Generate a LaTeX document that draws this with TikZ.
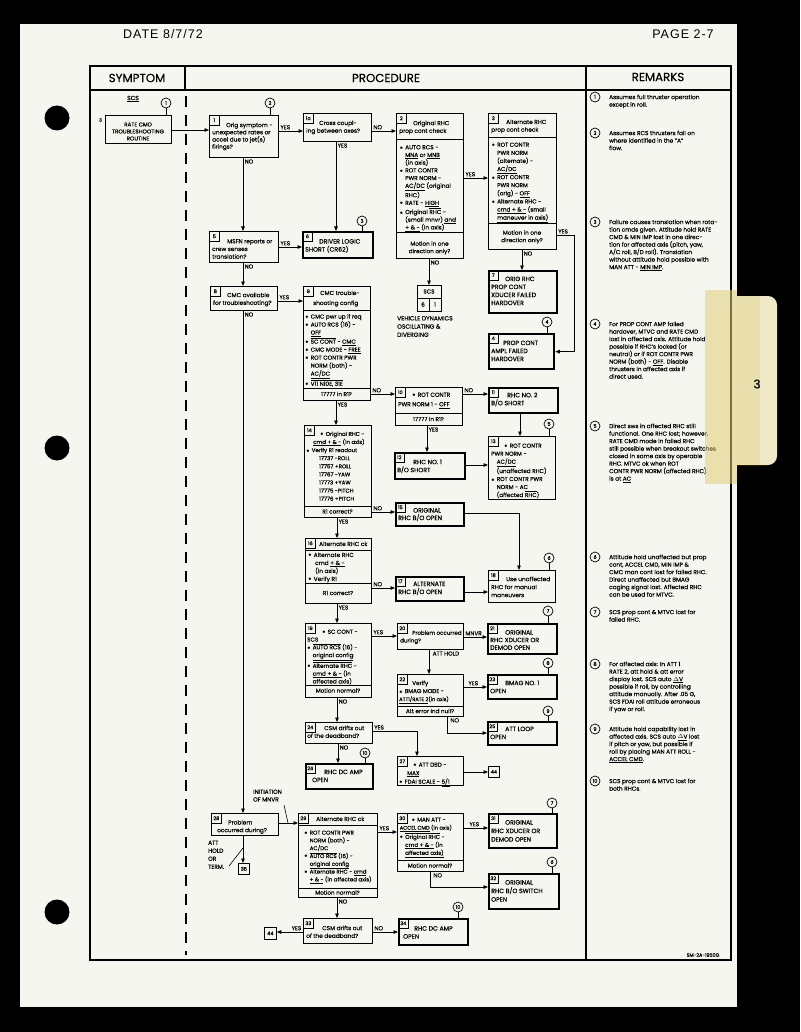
\documentclass[tikz,border=0pt]{standalone}
\usepackage{fontspec}
\setmainfont{Poppins}[FakeBold=0.35]
\newfontfamily\datefont[LetterSpace=8]{Liberation Sans}
\usetikzlibrary{arrows.meta}
\newcommand\ovl[1]{$\overline{\hbox{#1}}$}
\newcommand\uln[1]{\underline{#1}}
\newcommand\bu{\makebox[5.5pt][l]{$\scriptstyle\bullet$}}
\newcommand\ind{\hspace*{5.5pt}}
\newcommand\mkbox[6]{\node[#1, minimum width=#5pt, minimum height=#6pt] (#2) at (#3,#4) {};}
\newcommand\mktag[2]{\node[tag] (#1t) at (#1.north west) {#2};}
\definecolor{paper}{HTML}{F6F6F1}
\definecolor{tape}{HTML}{E0CF78}
\definecolor{tabc}{HTML}{EFE9C8}
\begin{document}
\begin{tikzpicture}[x=1pt,y=-1pt,
  box/.style={draw, line width=0.8pt, inner sep=0pt, anchor=north west},
  thk/.style={box, line width=2.3pt},
  tag/.style={draw, line width=0.6pt, inner sep=1pt, minimum width=10pt, minimum height=10pt, anchor=north west, font=\fontsize{5}{5}\selectfont},
  txt/.style={inner sep=0pt, anchor=north west, align=left, font=\fontsize{5.8}{7.7}\selectfont},
  btxt/.style={txt, font=\fontsize{6.2}{8}\selectfont},
  ctxt/.style={inner sep=0pt, align=center, font=\fontsize{5.7}{7.5}\selectfont},
  lab/.style={inner sep=1.3pt, font=\fontsize{5.7}{6}\selectfont},
  circ/.style={draw, circle, line width=0.7pt, minimum size=10pt, inner sep=0pt, font=\fontsize{5}{5}\selectfont},
  arr/.style={line width=0.8pt, -{Triangle[length=4.5pt,width=3.6pt]}},
  ln/.style={line width=0.8pt},
  rm/.style={inner sep=0pt, anchor=north west, align=left, font=\fontsize{5.8}{7.5}\selectfont},
  hdr/.style={inner sep=0pt, font=\fontsize{11.8}{12}\selectfont},
]
% ---------- background and page ----------
\fill[black] (0,0) rectangle (800,1032);
\fill[tabc, rounded corners=9pt] (725,296) rectangle (777,465);
\fill[paper] (20,24) rectangle (737,1007);
\foreach \hy in {118,448,912} \fill[black] (57,\hy) circle (12.5);
% ---------- page header ----------
\node[inner sep=0pt, font=\datefont\fontsize{12.5}{13}\selectfont] (date) at (163,34) {DATE 8/7/72};
\node[inner sep=0pt, font=\datefont\fontsize{12.5}{13}\selectfont] (page) at (683,34) {PAGE 2-7};
% ---------- table frame ----------
\draw[line width=1.5pt] (90,66) rectangle (731,960);
\draw[line width=1.2pt] (90,90) -- (731,90);
\draw[line width=1.2pt] (185,66) -- (185,90);
\draw[line width=1.2pt] (586,66) -- (586,960);
\draw[line width=1.1pt, dash pattern=on 11pt off 8pt] (186,96) -- (186,955);
\node[hdr] (hs) at (137,78) {SYMPTOM};
\node[hdr] (hp) at (386,78) {PROCEDURE};
\node[hdr] (hr) at (658,77) {REMARKS};
\node[inner sep=0pt, font=\fontsize{4.8}{5}\selectfont] (sm) at (703,955) {SM-2A-1950G};
% ---------- symptom ----------
\node[inner sep=0pt, font=\fontsize{6}{6}\selectfont] (scs) at (133,99) {\uln{SCS}};
\node[circ] (c1) at (166,103) {1};
\mkbox{box}{b0}{105}{115}{66}{28}
\node[ctxt, font=\fontsize{5.6}{7}\selectfont] (b0x) at (138,131.5) {RATE CMD\\TROUBLESHOOTING\\ROUTINE};
\node[inner sep=0pt, font=\fontsize{4.5}{5}\selectfont] (s3) at (100.5,120) {3};
\draw[ln] (c1.south) -- (c1.south |- b0.north);
% ---------- procedure boxes ----------
\node[circ] (c2) at (270,103) {2};
\mkbox{box}{b1}{209}{115}{69}{42}
\mktag{b1}{1}
\node[txt, font=\fontsize{5.8}{7.2}\selectfont] (b1x) at (212,122.5) {\hspace*{14pt}Orig symptom -\\unexpected rates or\\accel due to jet(s)\\firings?};
\draw[ln] (c2.south) -- (c2.south |- b1.north);

\mkbox{box}{b1a}{303}{113}{68}{28}
\mktag{b1a}{1a}
\node[txt] (b1ax) at (306,120.5) {\hspace*{13pt}Cross coupl-\\ing between axes?};

\mkbox{box}{b2}{396}{113}{67}{145}
\mktag{b2}{2}
\draw[ln] (b2.west |- 0,139) -- (b2.east |- 0,139);
\draw[ln] (b2.west |- 0,232) -- (b2.east |- 0,232);
\node[txt] (b2h) at (399,120.5) {\hspace*{14pt}Original RHC\\prop cont check};
\node[txt] (b2b) at (399.5,145) {\bu AUTO RCS -\\\ind\uln{MNA} or \uln{MNB}\\\ind(in axis)\\\bu ROT CONTR\\\ind PWR NORM -\\\ind\uln{AC/DC} (original\\\ind RHC)\\\bu RATE - \uln{HIGH}\\\bu Original \ovl{RHC} -\\\ind(small mnvr) \uln{and}\\\ind\uln{+ \& -} (in axis)};
\node[ctxt] (b2f) at (429.5,248) {Motion in one\\direction only?};

\mkbox{box}{b3}{488}{113}{68}{136}
\mktag{b3}{3}
\draw[ln] (b3.west |- 0,137) -- (b3.east |- 0,137);
\draw[ln] (b3.west |- 0,223) -- (b3.east |- 0,223);
\node[txt] (b3h) at (491,119.5) {\hspace*{15pt}Alternate RHC\\prop cont check};
\node[txt, font=\fontsize{5.7}{8.1}\selectfont] (b3b) at (491.5,142.5) {\bu ROT CONTR\\\ind PWR NORM\\\ind(alternate) -\\\ind\uln{AC/DC}\\\bu ROT CONTR\\\ind PWR NORM\\\ind(orig) - \uln{OFF}\\\bu Alternate RHC -\\\ind\uln{cmd + \& -} (small\\\ind\uln{maneuver in axis)}};
\node[ctxt] (b3f) at (522,237) {Motion in one\\direction only?};

\mkbox{box}{b5}{209}{231}{69}{31}
\mktag{b5}{5}
\node[txt] (b5x) at (212,239) {\hspace*{15pt}MSFN reports or\\crew senses\\translation?};

\node[circ] (c3) at (362,221) {3};
\mkbox{thk}{b6}{302}{231}{70}{26}
\mktag{b6}{6}
\node[btxt] (b6x) at (305,239) {\hspace*{14pt}DRIVER LOGIC\\SHORT (CR62)};
\draw[ln] (c3.south) -- (c3.south |- b6.north);

\mkbox{box}{bs}{417}{285}{24}{26}
\draw[ln] (bs.west |- 0,298) -- (bs.east |- 0,298);
\draw[ln] (bs.south) -- (bs.south |- 0,298);
\node[ctxt] (bs1) at (429,291.5) {SCS};
\node[ctxt] (bs2) at (423,304.5) {6};
\node[ctxt] (bs3) at (435,304.5) {1};
\node[txt, font=\fontsize{6}{8.2}\selectfont] (veh) at (397,316) {VEHICLE DYNAMICS\\OSCILLATING \&\\DIVERGING};

\mkbox{thk}{b7}{488}{270}{68}{42}
\mktag{b7}{7}
\node[btxt] (b7x) at (491,276.5) {\hspace*{14pt}ORIG RHC\\PROP CONT\\XDUCER FAILED\\HARDOVER};

\node[circ] (c4) at (547,322) {4};
\mkbox{thk}{b4}{488}{333}{65}{35}
\mktag{b4}{4}
\node[btxt] (b4x) at (491,340.5) {\hspace*{12pt}PROP CONT\\AMPL FAILED\\HARDOVER};
\draw[ln] (c4.south) -- (c4.south |- b4.north);

\mkbox{box}{b8}{210}{286}{67}{24}
\mktag{b8}{8}
\node[txt] (b8x) at (213,292.5) {\hspace*{14pt}CMC available\\for troubleshooting?};

\mkbox{box}{b9}{303}{286}{67}{114}
\mktag{b9}{9}
\draw[ln] (b9.west |- 0,310) -- (b9.east |- 0,310);
\draw[ln] (b9.west |- 0,388) -- (b9.east |- 0,388);
\node[txt, font=\fontsize{5.8}{10}\selectfont] (b9h) at (306,290.5) {\hspace*{14pt}CMC trouble-\\\hspace*{7pt}shooting config};
\node[txt, font=\fontsize{5.7}{8}\selectfont] (b9b) at (305,314) {\bu CMC pwr up if req\\\bu AUTO RCS (16) -\\\ind\uln{OFF}\\\bu \ovl{SC CONT} - \uln{CMC}\\\bu CMC MODE - \uln{FREE}\\\bu ROT CONTR PWR\\\ind NORM (both) -\\\ind\uln{AC/DC}\\\bu \ovl{V11 N10E, 31E}};
\node[ctxt] (b9f) at (336.5,394) {17777 in R1?};

\mkbox{box}{b10}{395}{387}{67}{38}
\mktag{b10}{10}
\draw[ln] (b10.west |- 0,413) -- (b10.east |- 0,413);
\node[txt, font=\fontsize{5.8}{9.5}\selectfont] (b10x) at (398,392.5) {\hspace*{14pt}\bu ROT CONTR\\PWR NORM 1 - \uln{OFF}};
\node[ctxt] (b10f) at (428.5,419) {17777 in R1?};

\mkbox{thk}{b11}{488}{387}{69}{25}
\mktag{b11}{11}
\node[btxt] (b11x) at (491,392.5) {\hspace*{16pt}RHC NO. 2\\B/O SHORT};

\mkbox{thk}{b12}{394}{452}{70}{26}
\mktag{b12}{12}
\node[btxt] (b12x) at (397,459.5) {\hspace*{16pt}RHC NO. 1\\B/O SHORT};

\node[circ] (c5) at (549,424) {5};
\mkbox{box}{b13}{488}{436}{67}{63}
\mktag{b13}{13}
\node[txt, font=\fontsize{5.7}{8}\selectfont] (b13x) at (491,443.5) {\hspace*{13pt}\bu ROT CONTR\\PWR NORM -\\\ind\uln{AC/DC}\\\ind(unaffected RHC)\\\bu ROT CONTR PWR\\\ind NORM - AC\\\ind(affected \ovl{RHC})};
\draw[ln] (c5.south) -- (c5.south |- b13.north);

\mkbox{box}{b14}{304}{425}{67}{92}
\mktag{b14}{14}
\draw[ln] (b14.west |- 0,506) -- (b14.east |- 0,506);
\node[txt, font=\fontsize{5.5}{8.1}\selectfont] (b14x) at (306,431.5) {\hspace*{14pt}\bu Original RHC -\\\hspace*{7pt}\uln{cmd + \& -} (in axis)\\\bu Verify R1 readout\\\hspace*{13pt}17737 -ROLL\\\hspace*{13pt}17757 +ROLL\\\hspace*{13pt}17767 -YAW\\\hspace*{13pt}17773 +YAW\\\hspace*{13pt}17775 -PITCH\\\hspace*{13pt}17776 +PITCH};
\node[ctxt] (b14f) at (337.5,511.5) {R1 correct?};

\mkbox{thk}{b15}{395}{502}{68}{23}
\mktag{b15}{15}
\node[btxt, font=\fontsize{6.2}{7.5}\selectfont] (b15x) at (398,508) {\hspace*{15pt}ORIGINAL\\RHC B/O OPEN};

\node[circ] (c6) at (549,558) {6};
\mkbox{box}{b18}{488}{570}{67}{32}
\mktag{b18}{18}
\node[txt, font=\fontsize{5.8}{8}\selectfont] (b18x) at (491,576.5) {\hspace*{15pt}Use unaffected\\RHC for manual\\maneuvers};
\draw[ln] (c6.south) -- (c6.south |- b18.north);

\mkbox{box}{b16}{305}{538}{66}{65}
\mktag{b16}{16}
\draw[ln] (b16.west |- 0,550) -- (b16.east |- 0,550);
\draw[ln] (b16.west |- 0,583) -- (b16.east |- 0,583);
\node[txt] (b16h) at (307,541.5) {\hspace*{12pt}Alternate RHC ck};
\node[txt, font=\fontsize{5.8}{8}\selectfont] (b16b) at (308,552.5) {\bu Alternate RHC\\\hspace*{7pt}cmd \uln{+ \& -}\\\hspace*{7pt}(in axis)\\\bu Verify R1};
\node[ctxt] (b16f) at (338,593) {R1 correct?};

\mkbox{thk}{b17}{395}{576}{68}{24}
\mktag{b17}{17}
\node[btxt] (b17x) at (398,581.5) {\hspace*{15pt}ALTERNATE\\RHC B/O OPEN};

\mkbox{box}{b19}{305}{623}{66}{74}
\mktag{b19}{19}
\draw[ln] (b19.west |- 0,685) -- (b19.east |- 0,685);
\node[txt, font=\fontsize{5.7}{7.8}\selectfont] (b19x) at (307,629.5) {\hspace*{15pt}\bu SC CONT -\\SCS\\\bu \ovl{AUTO RCS} (16) -\\\ind\uln{original config}\\\bu \ovl{Alternate RHC} -\\\ind\uln{cmd + \& -} (in\\\ind affected axis)};
\node[ctxt] (b19f) at (338,690.5) {Motion normal?};

\mkbox{box}{b20}{397}{623}{66}{26}
\mktag{b20}{20}
\node[txt, font=\fontsize{5.5}{7.7}\selectfont] (b20x) at (400,630.5) {\hspace*{12pt}Problem occurred\\during?};

\node[circ] (c7a) at (548,611) {7};
\mkbox{thk}{b21}{487}{623}{69}{30}
\mktag{b21}{21}
\node[btxt, font=\fontsize{6.2}{7.6}\selectfont] (b21x) at (490,630) {\hspace*{15pt}ORIGINAL\\RHC XDUCER OR\\DEMOD OPEN};
\draw[ln] (c7a.south) -- (c7a.south |- b21.north);

\mkbox{box}{b22}{397}{674}{66}{42}
\mktag{b22}{22}
\draw[ln] (b22.west |- 0,706) -- (b22.east |- 0,706);
\node[txt, font=\fontsize{5.7}{8}\selectfont] (b22x) at (399,680.5) {\hspace*{13pt}Verify\\\bu BMAG MODE -\\{\fontsize{5.1}{8}\selectfont\uln{ATT1/RATE 2}(in axis)}};
\node[ctxt] (b22f) at (430,711) {Att error ind null?};

\node[circ] (c8) at (548,663) {8};
\mkbox{thk}{b23}{487}{674}{69}{24}
\mktag{b23}{23}
\node[btxt] (b23x) at (490,680.5) {\hspace*{15pt}BMAG NO. 1\\OPEN};
\draw[ln] (c8.south) -- (c8.south |- b23.north);

\node[circ] (c9) at (548,711) {9};
\mkbox{thk}{b25}{487}{721}{69}{23}
\mktag{b25}{25}
\node[btxt] (b25x) at (490,726.5) {\hspace*{15pt}ATT LOOP\\OPEN};
\draw[ln] (c9.south) -- (c9.south |- b25.north);

\mkbox{box}{b24}{305}{722}{67}{21}
\mktag{b24}{24}
\node[txt] (b24x) at (307,725.5) {\hspace*{17pt}CSM drifts out\\of the deadband?};

\node[circ] (c10a) at (365,753) {10};
\mkbox{thk}{b26}{305}{763}{67}{25}
\mktag{b26}{26}
\node[btxt] (b26x) at (308,769.5) {\hspace*{16pt}RHC DC AMP\\\hspace*{4pt}OPEN};
\draw[ln] (c10a.south) -- (c10a.south |- b26.north);

\mkbox{box}{b27}{397}{756}{66}{29}
\mktag{b27}{27}
\node[txt, font=\fontsize{5.7}{8.5}\selectfont] (b27x) at (399,762.5) {\hspace*{14pt}\bu ATT DBD -\\\hspace*{8pt}\uln{MAX}\\\bu FDAI SCALE - \uln{5/1}};

\mkbox{box}{b44a}{488}{766}{11}{11}
\node[ctxt, font=\fontsize{5}{5}\selectfont] (b44ax) at (b44a.center) {44};

\node[txt] (init) at (253,789.5) {INITIATION\\OF MNVR};
\mkbox{box}{b28}{211}{813}{67}{22}
\mktag{b28}{28}
\node[txt] (b28x) at (214,820) {\hspace*{14pt}Problem\\\hspace*{3pt}occurred during?};
\mkbox{box}{b35}{238}{863}{11}{11}
\node[ctxt, font=\fontsize{5}{5}\selectfont] (b35x) at (b35.center) {35};
\node[txt, font=\fontsize{5.8}{8}\selectfont] (atth) at (208,840.5) {ATT\\HOLD\\OR\\TERM.};

\mkbox{box}{b29}{298}{813}{79}{84}
\mktag{b29}{29}
\draw[ln] (b29.west |- 0,825) -- (b29.east |- 0,825);
\draw[ln] (b29.west |- 0,888) -- (b29.east |- 0,888);
\node[txt] (b29h) at (301,816.5) {\hspace*{15pt}Alternate RHC ck};
\node[txt, font=\fontsize{5.5}{7.8}\selectfont] (b29b) at (304,830.5) {\bu ROT CONTR PWR\\\ind NORM (both) -\\\ind AC/DC\\\bu \ovl{AUTO RCS} (16) -\\\ind\uln{original config}\\\bu Alternate RHC - \uln{cmd}\\\ind\uln{+ \& -} (in affected axis)};
\node[ctxt] (b29f) at (337.5,892.5) {Motion normal?};

\mkbox{box}{b30}{397}{813}{66}{58}
\mktag{b30}{30}
\draw[ln] (b30.west |- 0,860) -- (b30.east |- 0,860);
\node[txt, font=\fontsize{5.6}{8}\selectfont] (b30x) at (399.5,817.5) {\hspace*{12pt}\bu MAN ATT -\\{\fontsize{5.2}{8}\selectfont\uln{ACCEL CMD} (in axis)}\\\bu \ovl{Original RHC} -\\\ind\uln{cmd + \& -} (in\\\ind\uln{affected axis)}};
\node[ctxt] (b30f) at (430,865.5) {Motion normal?};

\node[circ] (c7b) at (552,803) {7};
\mkbox{thk}{b31}{488}{813}{68}{34}
\mktag{b31}{31}
\node[btxt, font=\fontsize{6.2}{8.5}\selectfont] (b31x) at (491,820) {\hspace*{14pt}ORIGINAL\\RHC XDUCER OR\\DEMOD OPEN};
\draw[ln] (c7b.south) -- (c7b.south |- b31.north);

\node[circ] (c6b) at (552,862) {6};
\mkbox{thk}{b32}{488}{873}{70}{35}
\mktag{b32}{32}
\node[btxt, font=\fontsize{6.2}{8.5}\selectfont] (b32x) at (491,880) {\hspace*{14pt}ORIGINAL\\RHC B/O SWITCH\\OPEN};
\draw[ln] (c6b.south) -- (c6b.south |- b32.north);

\mkbox{box}{b33}{303}{918}{69}{25}
\mktag{b33}{33}
\node[txt] (b33x) at (306,925.5) {\hspace*{16pt}CSM drifts out\\of the deadband?};
\mkbox{box}{b44b}{264}{927}{12}{12}
\node[ctxt, font=\fontsize{5}{5}\selectfont] (b44bx) at (b44b.center) {44};

\node[circ] (c10b) at (458,907) {10};
\mkbox{thk}{b34}{398}{918}{69}{26}
\mktag{b34}{34}
\node[btxt] (b34x) at (401,926) {\hspace*{13pt}RHC DC AMP\\\hspace*{2pt}OPEN};
\draw[ln] (c10b.south) -- (c10b.south |- b34.north);

% ---------- connectors ----------
\draw[arr] (b0.east |- 0,130) -- (b1.west |- 0,130);
\draw[arr] (b1.east |- 0,131) -- node[lab,pos=0,anchor=south west] (l1) {YES} (b1a.west |- 0,131);
\draw[arr] (b1a.east |- 0,131) -- node[lab,pos=0,anchor=south west] (l2) {NO} (b2.west |- 0,131);
\draw[arr] (b1a.south -| 336,0) -- node[lab,pos=0,anchor=north west] (l3) {YES} (b6.north -| 336,0);
\draw[arr] (b1.south -| 243,0) -- node[lab,pos=0,anchor=north west] (l4) {NO} (b5.north -| 243,0);
\draw[arr] (b5.east |- 0,247) -- node[lab,pos=0,anchor=south west] (l5) {YES} (b6.west |- 0,247);
\draw[arr] (b5.south -| 243,0) -- node[lab,pos=0,anchor=north west] (l6) {NO} (b8.north -| 243,0);
\draw[arr] (b2.south -| 429,0) -- node[lab,pos=0,anchor=north west] (l7) {NO} (bs.north -| 429,0);
\draw[arr] (b2.east |- 0,178) -- node[lab,pos=0,anchor=south west] (l8) {YES} (b3.west |- 0,178);
\draw[arr] (b3.south -| 522,0) -- node[lab,pos=0,anchor=north west] (l9) {NO} (b7.north -| 522,0);
\draw[arr] (b3.east |- 0,235) -| ([xshift=19pt]b4.east) -- (b4.east);
\node[lab,anchor=south west] (l10) at (b3.east |- 0,235) {YES};
\draw[arr] (b8.east |- 0,301) -- node[lab,pos=0,anchor=south west] (l11) {YES} (b9.west |- 0,301);
\draw[arr] (b8.south -| 243,0) -- node[lab,pos=0,anchor=north west] (l12) {NO} (b28.north -| 243,0);
\draw[arr] (b9.east |- 0,394) -- node[lab,pos=0,anchor=south west] (l13) {NO} (b10.west |- 0,394);
\draw[arr] (b10.east |- 0,394) -- node[lab,pos=0,anchor=south west] (l14) {NO} (b11.west |- 0,394);
\draw[arr] (b11.south -| 520,0) -- (b13.north -| 520,0);
\draw[arr] (b10.south -| 427,0) -- node[lab,pos=0,anchor=north west] (l15) {YES} (b12.north -| 427,0);
\draw[arr] (b12.east |- 0,465) -- (b13.west |- 0,465);
\draw[arr] (b9.south -| 336,0) -- node[lab,pos=0,anchor=north west] (l16) {YES} (b14.north -| 336,0);
\draw[arr] (b14.east |- 0,512) -- node[lab,pos=0,anchor=south west] (l17) {NO} (b15.west |- 0,512);
\draw[arr] (b15.east |- 0,513) -| (b18.north -| 519,0);
\draw[arr] (b14.south -| 337,0) -- node[lab,pos=0,anchor=north west] (l18) {YES} (b16.north -| 337,0);
\draw[arr] (b16.east |- 0,588) -- node[lab,pos=0,anchor=south west] (l19) {NO} (b17.west |- 0,588);
\draw[arr] (b17.east |- 0,592) -- (b18.west |- 0,592);
\draw[arr] (b16.south -| 337,0) -- node[lab,pos=0,anchor=north west] (l20) {YES} (b19.north -| 337,0);
\draw[arr] (b19.east |- 0,636) -- node[lab,pos=0,anchor=south west] (l21) {YES} (b20.west |- 0,636);
\draw[arr] (b20.east |- 0,637) -- node[lab,pos=0,anchor=south west] (l22) {MNVR} (b21.west |- 0,637);
\draw[arr] (b20.south -| 429,0) -- node[lab,pos=0,anchor=north west,xshift=2pt] (l23) {ATT HOLD} (b22.north -| 429,0);
\draw[arr] (b22.east |- 0,687) -- node[lab,pos=0,anchor=south west,xshift=3pt] (l24) {YES} (b23.west |- 0,687);
\draw[arr] (b22.south -| 447,0) |- (b25.west |- 0,733);
\node[lab,anchor=north west,xshift=2pt] (l25) at (b22.south -| 447,0) {NO};
\draw[arr] (b19.south -| 337,0) -- node[lab,pos=0,anchor=north west] (l26) {NO} (b24.north -| 337,0);
\draw[arr] (b24.east |- 0,731) -| (b27.north -| 417,0);
\node[lab,anchor=south west] (l27) at (b24.east |- 0,731) {YES};
\draw[arr] (b24.south -| 338,0) -- node[lab,pos=0,anchor=north west] (l28) {NO} (b26.north -| 338,0);
\draw[arr] (b27.east |- 0,772) -- (b44a.west |- 0,772);
\draw[arr] (b28.east |- 0,823) -- (b29.west |- 0,823);
\coordinate (ia) at (284,805);
\coordinate (ib) at (288,823);
\draw[line width=0.6pt] (ia) -- (ib);
\draw[arr] (b28.south -| 243,0) -- (b35.north -| 243,0);
\coordinate (ta) at (229,866);
\coordinate (tb) at (243,848);
\draw[line width=0.6pt] (ta) -- (tb);
\draw[arr] (b29.east |- 0,832) -- node[lab,pos=0,anchor=south west] (l29) {YES} (b30.west |- 0,832);
\draw[arr] (b30.east |- 0,828) -- node[lab,pos=0,anchor=south west,xshift=4pt] (l30) {YES} (b31.west |- 0,828);
\draw[arr] (b30.south -| 430,0) |- (b32.west |- 0,887);
\node[lab,anchor=north west,xshift=2pt] (l31) at (b30.south -| 430,0) {NO};
\draw[arr] (b29.south -| 337,0) -- node[lab,pos=0,anchor=north west] (l32) {NO} (b33.north -| 337,0);
\draw[arr] (b33.west |- 0,932) -- node[lab,pos=0,anchor=south east] (l33) {YES} (b44b.east |- 0,932);
\draw[arr] (b33.east |- 0,932) -- node[lab,pos=0,anchor=south west] (l34) {NO} (b34.west |- 0,932);

% ---------- remarks ----------
\node[circ] (r1) at (595,97) {1};
\node[rm] (r1x) at (609,94.5) {Assumes full thruster operation\\except in roll.};
\node[circ] (r2) at (595,133) {2};
\node[rm] (r2x) at (609,130.5) {Assumes RCS thrusters fail on\\where identified in the "A"\\flow.};
\node[circ] (r3) at (595,222) {3};
\node[rm] (r3x) at (609,219.5) {Failure causes translation when rota-\\tion cmds given. Attitude hold RATE\\CMD \& MIN IMP lost in one direc-\\tion for affected axis (pitch, yaw,\\A/C roll, B/D roll). Translation\\without attitude hold possible with\\MAN ATT - \uln{MIN IMP}.};
\node[circ] (r4) at (595,324) {4};
\node[rm] (r4x) at (609,321.5) {For PROP CONT AMP failed\\hardover, MTVC and RATE CMD\\lost in affected axis. Attitude hold\\possible if RHC's locked (or\\neutral) or if ROT CONTR PWR\\NORM (both) - \uln{OFF}. Disable\\thrusters in affected axis if\\direct used.};
\node[circ] (r5) at (595,426) {5};
\node[rm] (r5x) at (609,423.5) {Direct sws in affected RHC still\\functional. One RHC lost; however,\\RATE CMD mode in failed RHC\\still possible when breakout switches\\closed in same axis by operable\\RHC. MTVC ok when ROT\\CONTR PWR NORM (affected RHC)\\is at \uln{AC}};
\node[circ] (r6) at (595,557) {6};
\node[rm] (r6x) at (609,554.5) {Attitude hold unaffected but prop\\cont, ACCEL CMD, MIN IMP \&\\CMC man cont lost for failed RHC.\\Direct unaffected but BMAG\\caging signal lost. Affected RHC\\can be used for MTVC.};
\node[circ] (r7) at (595,612) {7};
\node[rm] (r7x) at (609,609.5) {SCS prop cont \& MTVC lost for\\failed RHC.};
\node[circ] (r8) at (595,664) {8};
\node[rm] (r8x) at (609,661.5) {For affected axis: In ATT 1\\RATE 2, att hold \& att error\\display lost. SCS auto \uln{$\Delta$V}\\possible if roll, by controlling\\attitude manually. After .05 G,\\SCS FDAI roll attitude erroneous\\if yaw or roll.};
\node[circ] (r9) at (595,729) {9};
\node[rm] (r9x) at (609,726.5) {Attitude hold capability lost in\\affected axis. SCS auto \uln{$\Delta$V} lost\\if pitch or yaw, but possible if\\roll by placing MAN ATT ROLL -\\\uln{ACCEL CMD}.};
\node[circ] (r10) at (595,781) {10};
\node[rm] (r10x) at (609,778.5) {SCS prop cont \& MTVC lost for\\both RHCs.};

% ---------- tab and tape ----------
\fill[tape, opacity=0.55] (705,290) rectangle (737,484);
\fill[tape, opacity=0.35] (737,296) rectangle (760,465);
\node[inner sep=0pt, font=\fontsize{12}{12}\selectfont] (tab3) at (757,384) {3};
\end{tikzpicture}
\end{document}
